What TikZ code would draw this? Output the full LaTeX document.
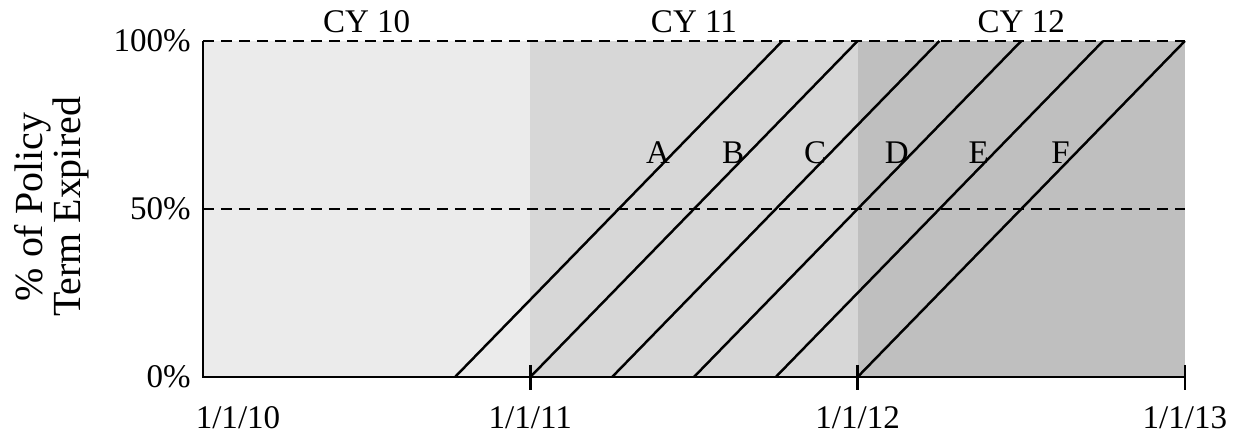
\documentclass[tikz,border=0pt]{standalone}
\usepackage{fontspec}
\setmainfont{Liberation Serif}
\usetikzlibrary{positioning}
\definecolor{cyten}{RGB}{235,235,235}
\definecolor{cyeleven}{RGB}{215,215,215}
\definecolor{cytwelve}{RGB}{191,191,191}

\begin{document}
\begin{tikzpicture}[x=6.546cm,y=6.72cm,line width=1.4pt,
  lbl/.style={font=\fontsize{18.8}{21}\selectfont,inner sep=0pt},
  refline/.style={dash pattern=on 0.22cm off 0.14cm}]
  \useasboundingbox (-0.6202,-0.1756) rectangle (3.1653,1.1220);
  % ---------------- calendar year bands ----------------
  \fill[cyten] (0,0) rectangle (1,1);
  \fill[cyeleven] (1,0) rectangle (2,1);
  \fill[cytwelve] (2,0) rectangle (3,1);
  \foreach \yr/\lab in {0/10,1/11,2/12}
    \node[lbl,anchor=base] (cy\lab) at (\yr+0.5,1.024) {CY \lab};
  % ---------------- reference levels ----------------
  \draw[refline] (0,1) -- (3,1);
  \draw[refline] (0,0.5) -- (3,0.5);
  % ---------------- policies written each quarter ----------------
  \foreach \s/\lab in {0.77/A,1/B,1.25/C,1.5/D,1.75/E,2/F}{
    \draw (\s,0) coordinate (start\lab) -- (\s+1,1) coordinate (end\lab);
    \node[lbl] (pol\lab) at (\s+0.62,0.667) {\lab};
  }
  % ---------------- axes ----------------
  \draw (0,1) -- (0,0) -- (3,0);
  \foreach \yr in {1,2,3}
    \draw (\yr,0.036) -- (\yr,-0.039);
  \node[lbl,anchor=base] (d10) at (0.107,-0.152) {1/1/10};
  \foreach \yr/\lab in {1/11,2/12,3/13}
    \node[lbl,anchor=base] (d\lab) at (\yr,-0.152) {1/1/\lab};
  \foreach \lev/\lab in {1/100,0.5/50,0/0}
    \node[lbl,anchor=east] (p\lab) at (-0.034,\lev) {\lab\%};
  \node[font=\fontsize{22.7}{19.9}\selectfont,rotate=90,align=center,inner sep=0pt] (ylab)
    at (-0.461,0.506) {\% of Policy\\Term Expired};
\end{tikzpicture}
\end{document}
